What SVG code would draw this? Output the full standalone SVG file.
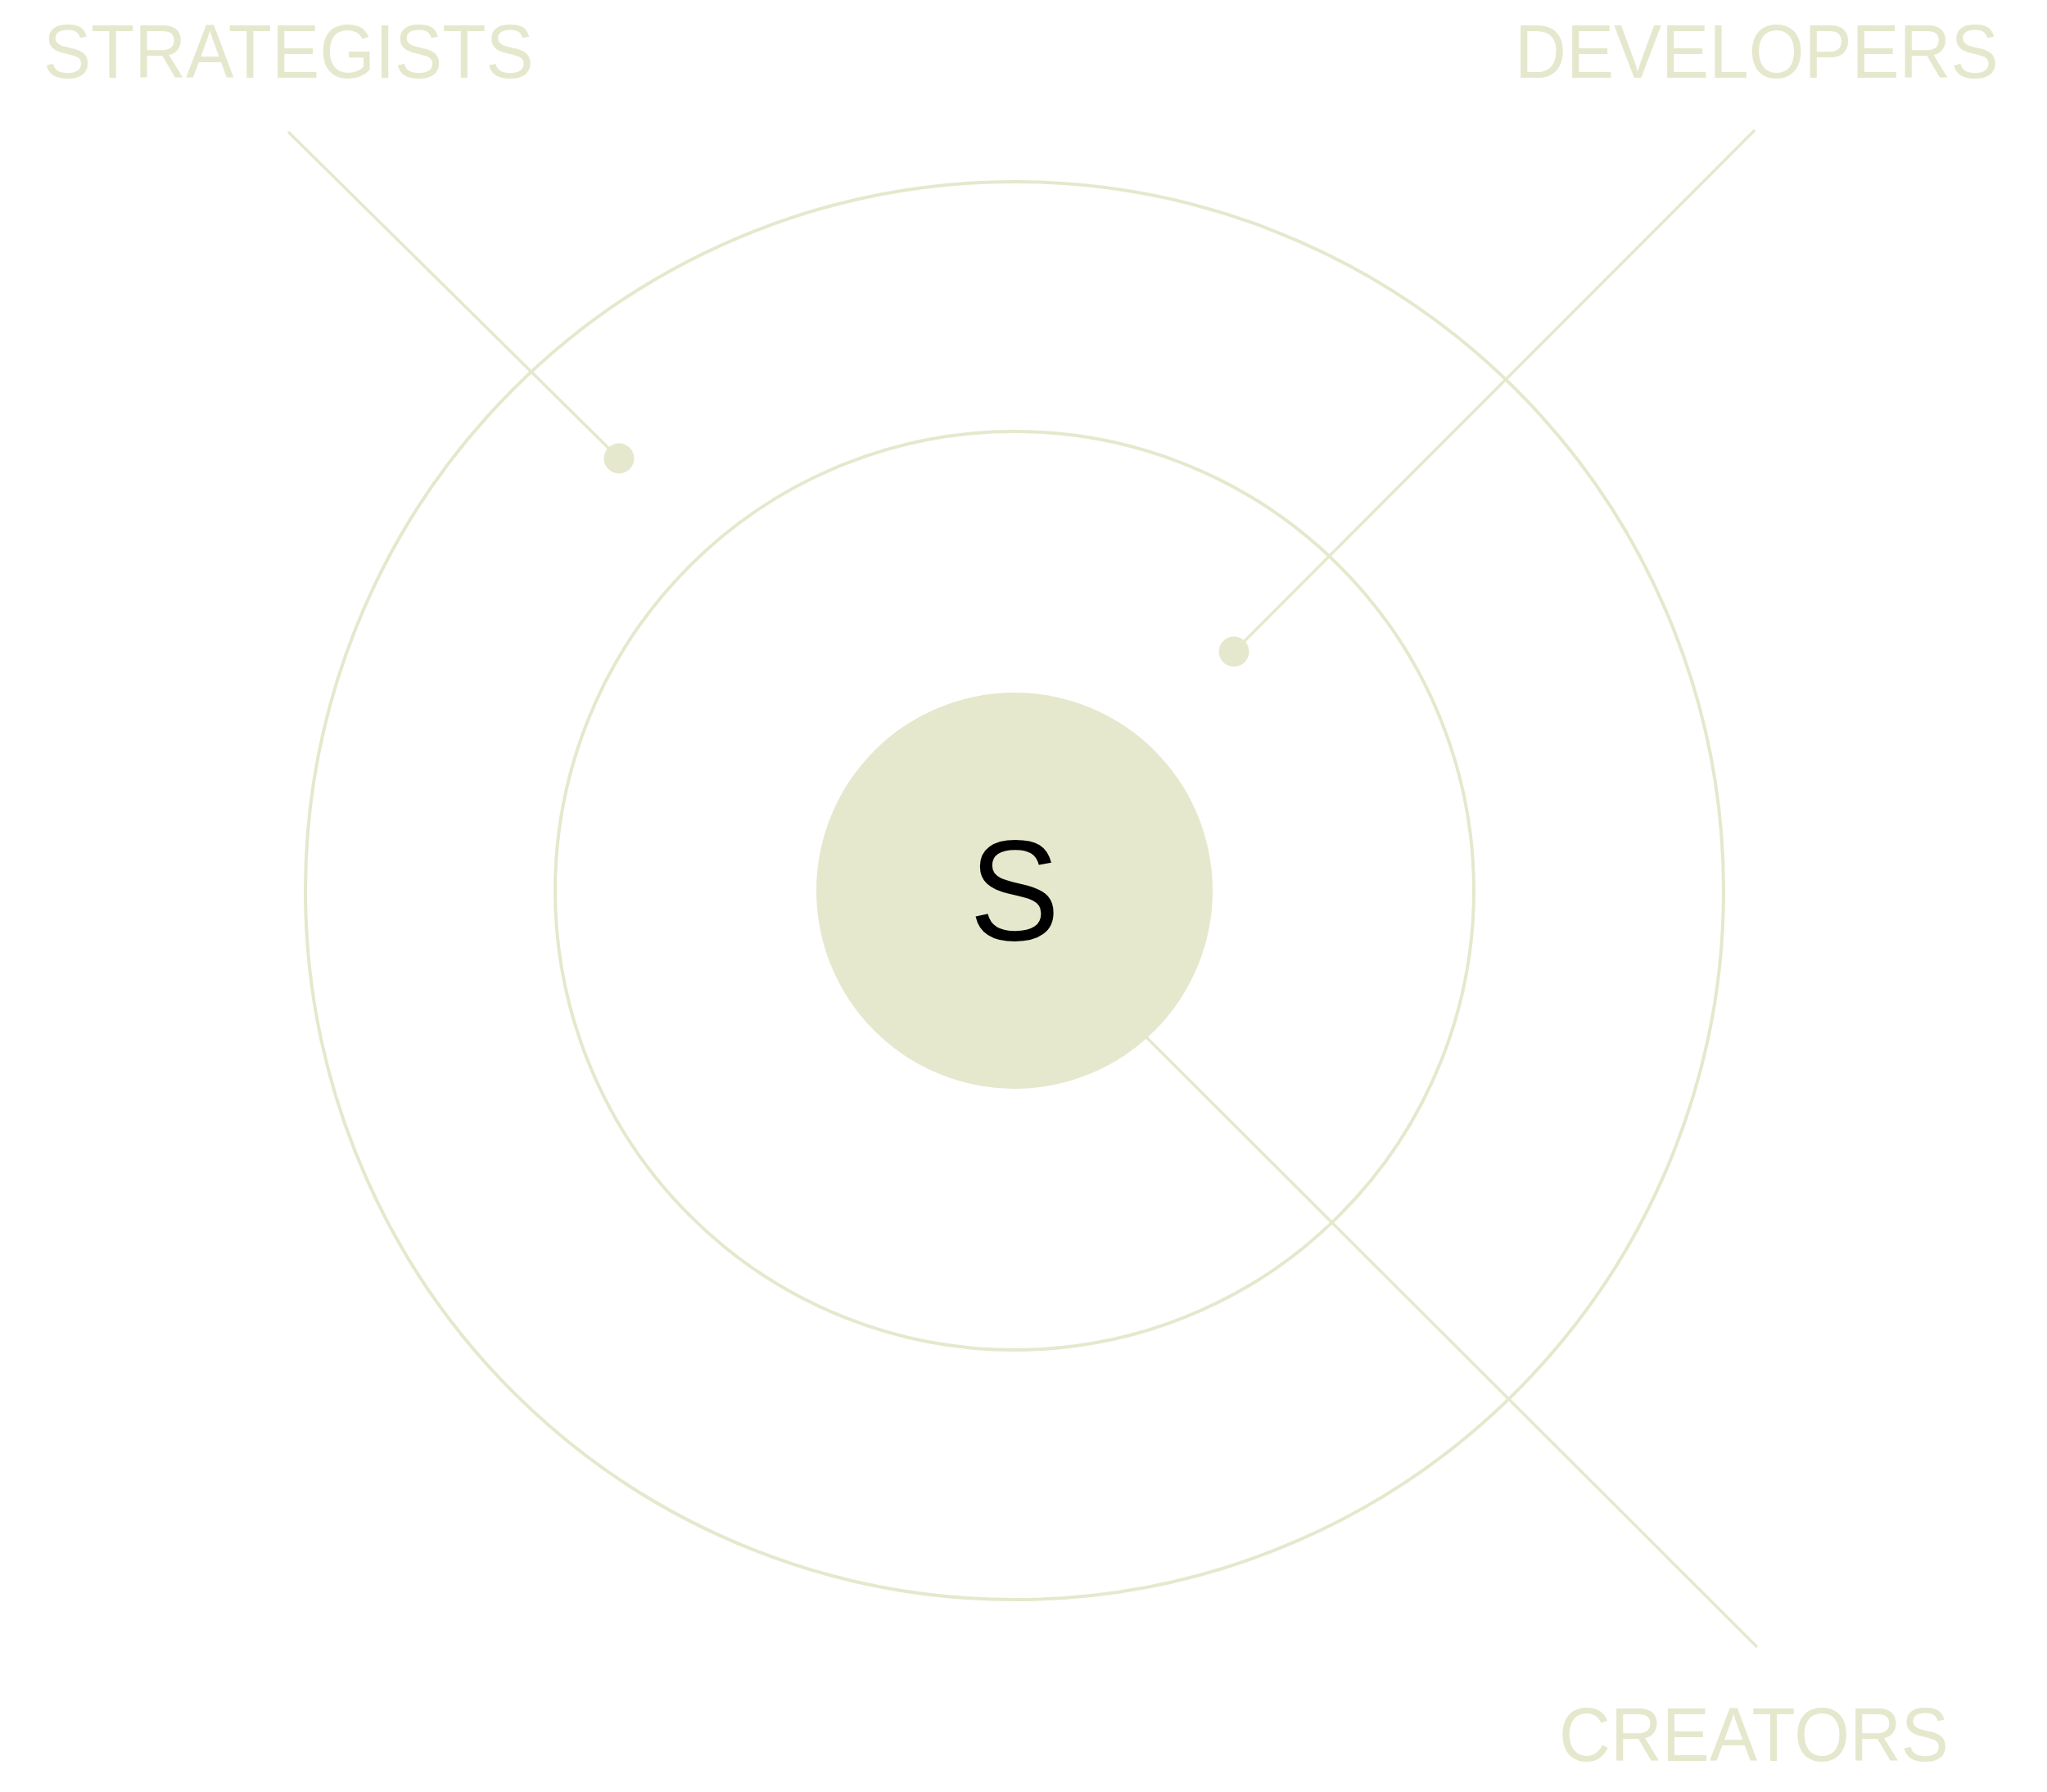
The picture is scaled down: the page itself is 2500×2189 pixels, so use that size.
<svg xmlns="http://www.w3.org/2000/svg" width="2500" height="2189" viewBox="0 0 2500 2189">
<style>
.ring{fill:none;stroke:#e6e8cd;stroke-width:4}
.conn{stroke:#e6e8cd;stroke-width:3.5;fill:none}
.dot{fill:#e6e8cd}
.label{font-family:"Liberation Sans",Arial,Helvetica,sans-serif;font-size:92px;fill:#e6e8cd}
.core{fill:#e6e8cd}
.coretext{font-family:"Liberation Sans",Arial,Helvetica,sans-serif;font-size:174px;fill:#000000}
</style>
<rect width="2500" height="2189" fill="#ffffff"/>
<g id="rings">
<circle class="ring" cx="1239" cy="1088" r="866"/>
<circle class="ring" cx="1239" cy="1088" r="561"/>
</g>
<g id="connectors">
<line class="conn" x1="352" y1="161" x2="756" y2="560"/>
<line class="conn" x1="2143" y1="159" x2="1507" y2="796"/>
<line class="conn" x1="1395" y1="1262" x2="2146" y2="2012"/>
</g>
<g id="core">
<circle class="core" cx="1239" cy="1088" r="242"/>
<text class="coretext" transform="translate(1239,1148) scale(0.95,1)" text-anchor="middle">S</text>
</g>
<g id="strategists">
<circle class="dot" cx="756" cy="560" r="18.5"/>
<text class="label" transform="translate(53,95) scale(0.947,1)">STRATEGISTS</text>
</g>
<g id="developers">
<circle class="dot" cx="1507" cy="796" r="18.5"/>
<text class="label" transform="translate(1850,95) scale(0.947,1)">DEVELOPERS</text>
</g>
<g id="creators">
<text class="label" transform="translate(1904,2151) scale(0.947,1)">CREATORS</text>
</g>
</svg>
